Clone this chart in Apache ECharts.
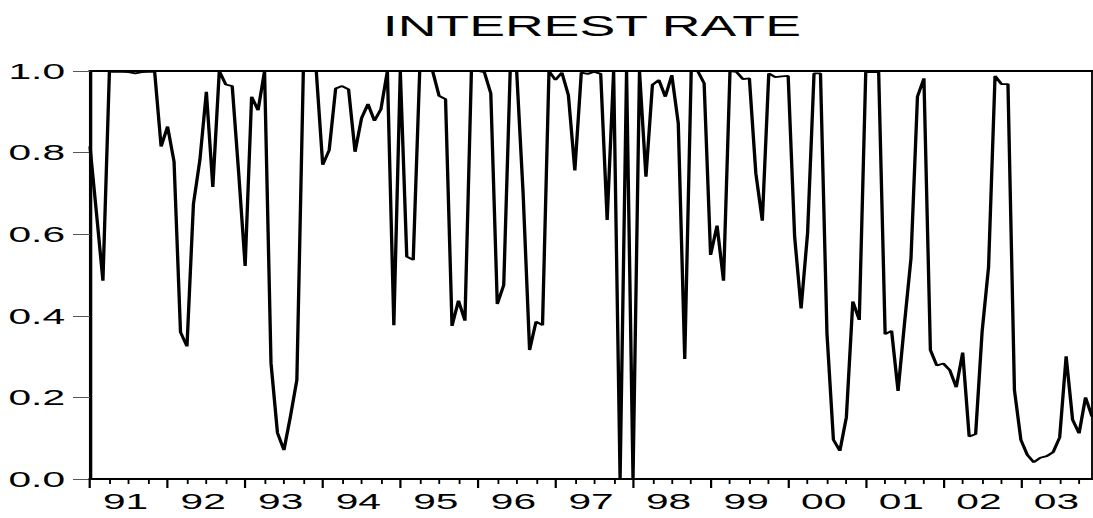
<!DOCTYPE html>
<html>
<head>
<meta charset="utf-8">
<script src="https://cdn.jsdelivr.net/npm/echarts@6/dist/echarts.min.js"></script>
<style>
  html, body { margin: 0; padding: 0; background: #fff; overflow: hidden; }
  #wrap { width: 1093px; height: 518px; overflow: hidden; }
  /* EViews-style wide lettering: the chart is laid out narrow and widened */
  #chart { width: 591px; height: 518px; transform: scaleX(1.849408); transform-origin: 0 0; }
</style>
</head>
<body>
<div id="wrap"><div id="chart"></div></div>
<script>
// Monthly series, 1991M01 .. 2003M12
const startYear = 1991;
const yearLabels = ['91','92','93','94','95','96','97','98','99','00','01','02','03'];
const yTickValues = [0.0, 0.2, 0.4, 0.6, 0.8, 1.0];
const interestRate = [
  0.815, 0.652, 0.486, 0.998, 0.998, 0.998, 0.997, 0.994, 0.997, 0.998, 0.998, 0.815,
  0.864, 0.778, 0.360, 0.325, 0.674, 0.782, 0.949, 0.716, 1.000, 0.967, 0.963, 0.750,
  0.522, 0.937, 0.904, 1.000, 0.284, 0.113, 0.071, 0.153, 0.243, 1.000, 1.000, 1.000,
  0.770, 0.806, 0.957, 0.963, 0.955, 0.802, 0.884, 0.919, 0.878, 0.906, 1.000, 0.377,
  1.000, 0.545, 0.537, 1.000, 1.000, 1.000, 0.939, 0.931, 0.375, 0.437, 0.388, 1.000,
  1.000, 0.997, 0.945, 0.429, 0.475, 1.000, 1.000, 0.700, 0.316, 0.386, 0.377, 1.000,
  0.978, 0.996, 0.941, 0.756, 0.996, 0.993, 0.998, 0.993, 0.635, 1.000, 0.000, 1.000,
  0.000, 1.000, 0.741, 0.966, 0.978, 0.937, 0.990, 0.872, 0.294, 1.000, 1.000, 0.970,
  0.549, 0.621, 0.486, 1.000, 0.998, 0.980, 0.982, 0.749, 0.633, 0.994, 0.985, 0.987,
  0.988, 0.594, 0.418, 0.602, 0.994, 0.994, 0.357, 0.096, 0.069, 0.151, 0.435, 0.390,
  0.997, 0.997, 0.997, 0.355, 0.363, 0.216, 0.382, 0.541, 0.937, 0.982, 0.316, 0.278,
  0.283, 0.267, 0.225, 0.310, 0.104, 0.110, 0.361, 0.520, 0.988, 0.968, 0.968, 0.218,
  0.096, 0.059, 0.041, 0.052, 0.056, 0.066, 0.102, 0.301, 0.145, 0.112, 0.200, 0.153
];

const lastIndex = interestRate.length - 1;
const points = interestRate.map((v, i) => [i, v]);

// year boundaries (major ticks), quarter marks (minor ticks), mid-year label spots
const yearStarts = yearLabels.map((_, k) => k * 12);
const quarterMarks = [];
for (let m = 3; m <= lastIndex; m += 3) if (m % 12 !== 0) quarterMarks.push(m);
const labelSpots = yearLabels.map((_, k) => k * 12 + 5.5);

const FONT = '"Liberation Sans", Arial, Helvetica, sans-serif';

const chart = echarts.init(document.getElementById('chart'), null, { renderer: 'svg' });
chart.setOption({
  animation: false,
  backgroundColor: '#ffffff',
  title: {
    text: 'INTEREST RATE',
    left: 315,
    textAlign: 'center',
    top: 6,
    textStyle: { fontFamily: FONT, fontSize: 29, fontWeight: 'normal', color: '#000' }
  },
  grid: {
    left: 48.665, right: 0.54, top: 71, bottom: 39,
    show: true, borderColor: '#000', borderWidth: 1, backgroundColor: 'transparent'
  },
  xAxis: [
    {
      type: 'value', min: 0, max: lastIndex, position: 'bottom',
      splitLine: { show: false },
      axisLine: { show: true, lineStyle: { color: '#000', width: 2 } },
      axisTick: { show: true, inside: false, length: 9, customValues: yearStarts,
                  lineStyle: { color: '#000', width: 1.2 } },
      axisLabel: {
        show: true, margin: 11, customValues: labelSpots,
        fontFamily: FONT, fontSize: 22, color: '#000',
        formatter: v => yearLabels[Math.round((v - 5.5) / 12)]
      }
    },
    {
      type: 'value', min: 0, max: lastIndex, position: 'bottom',
      splitLine: { show: false },
      axisLine: { show: false },
      axisTick: { show: true, inside: false, length: 5, customValues: quarterMarks,
                  lineStyle: { color: '#000', width: 1 } },
      axisLabel: { show: false }
    },
    {
      type: 'value', min: 0, max: lastIndex, position: 'top',
      splitLine: { show: false },
      axisLine: { show: true, lineStyle: { color: '#000', width: 2 } },
      axisTick: { show: false },
      axisLabel: { show: false }
    }
  ],
  yAxis: {
    type: 'value', min: 0, max: 1, interval: 0.2,
    splitLine: { show: false },
    axisLine: { show: true, lineStyle: { color: '#000', width: 1.8 } },
    axisTick: { show: true, inside: false, length: 9.2, lineStyle: { color: '#555', width: 1 } },
    axisLabel: {
      margin: 13.5, fontFamily: FONT, fontSize: 22, color: '#000',
      padding: [0, 0, 13, 0],
      formatter: v => {
        const t = yTickValues.find(y => Math.abs(y - v) < 1e-9);
        return (t !== undefined ? t : v).toFixed(1);
      }
    }
  },
  series: [{
    name: 'INTEREST RATE',
    type: 'line',
    xAxisIndex: 0,
    data: points,
    showSymbol: false,
    clip: false,
    lineStyle: { color: '#000', width: 1.8 }
  }]
});
</script>
</body>
</html>
